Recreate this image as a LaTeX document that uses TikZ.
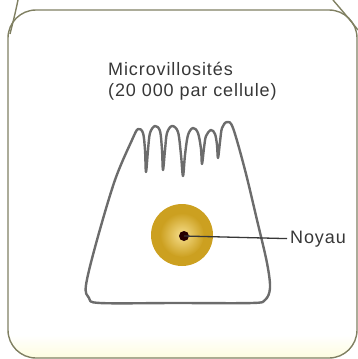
\documentclass[tikz,border=0pt]{standalone}
\usepackage{fontspec}
\usepackage{tikz}
\usepackage{xcolor}
\usetikzlibrary{positioning}

\newfontfamily\labelfont[LetterSpace=5]{Liberation Sans}

\definecolor{framegray}{RGB}{128,128,98}
\definecolor{cellgray}{RGB}{108,108,108}
\definecolor{goldouter}{RGB}{204,160,32}
\definecolor{goldinner}{RGB}{246,222,140}
\definecolor{textgray}{RGB}{55,55,55}
\definecolor{creamy}{RGB}{253,252,222}

\tikzset{
    lbl/.style={font=\labelfont\fontsize{18}{21}\selectfont, text=textgray, inner sep=0pt},
    frameline/.style={draw=framegray, line width=1.4pt},
    cellline/.style={draw=cellgray, line width=2.4pt, line join=round},
}

\begin{document}
\begin{tikzpicture}[x=1pt, y=-1pt]
    \useasboundingbox (0,0) rectangle (358,359);

    % panel frame, with the sides of the panel above running into it
    \begin{scope}
        \clip[rounded corners=28pt] (8,10) rectangle (357,358);
        \shade[top color=white, bottom color=creamy] (0,335) rectangle (358,359);
    \end{scope}
    \draw[frameline, rounded corners=28pt] (8,10) rectangle (357,358);
    \draw[frameline] (18,0) .. controls (15,14) .. (10,34);
    \draw[frameline] (333,0) .. controls (345,14) .. (358,30);

    % cell outline with the microvilli on top
    \draw[cellline] plot[smooth cycle, tension=0.55] coordinates {
        (100,303) (89,298) (86,285) (97,240) (115,180) (132,140)
        (138,129) (143,133) (145,150) (146,172)
        (148,150) (150,133) (155,126) (160,131) (162,150) (163,170)
        (165,150) (167,133) (172,126) (178,132) (181,155) (183,176)
        (185,155) (188,135) (193,128) (198,133) (201,149) (202,164)
        (204,148) (206,136) (211,130) (215,134) (217,145) (218,158)
        (220,142) (222,128) (227,122) (233,128) (245,170) (257,220)
        (267,263) (270,288) (265,300) (252,303) (176,303)
    };

    % nucleus
    \node[circle, fill=goldouter, minimum size=62pt, inner sep=0pt] (nucleus) at (182,235) {};
    \shade[inner color=goldinner, outer color=goldouter] (nucleus.center) circle (22pt);
    \node[circle, fill=black!85!red, minimum size=10pt, inner sep=0pt] (dot) at (184,236) {};

    % labels
    \node[lbl, anchor=north west, align=left] (villi) at (108,62)
        {Microvillosités\\(20 000 par cellule)};
    \node[lbl, anchor=base west] (noyau) at (290,243) {Noyau};
    \draw[textgray, line width=1.3pt, shorten >=3pt] (dot.center) -- (noyau.west);
\end{tikzpicture}
\end{document}
